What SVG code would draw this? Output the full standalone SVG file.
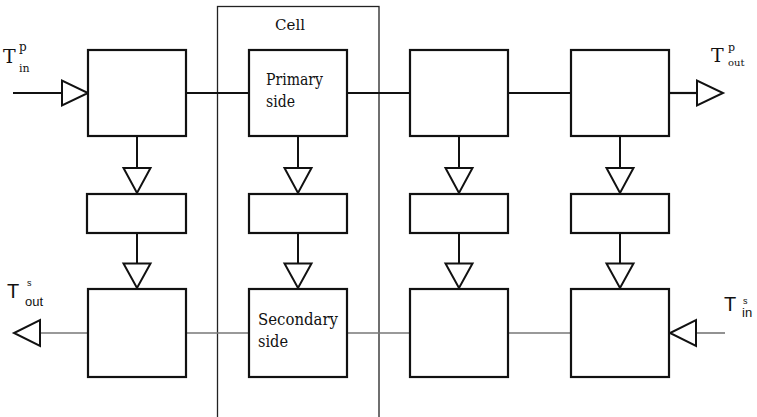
<svg xmlns="http://www.w3.org/2000/svg" width="757" height="417" viewBox="0 0 757 417">
<style>
.box{fill:#fff;stroke:#111;stroke-width:2.2}
.tri{fill:#fff;stroke:#111;stroke-width:2}
.ln{stroke:#111;stroke-width:2.2;fill:none}
.vl{stroke:#111;stroke-width:2;fill:none}
.gl{stroke:#777;stroke-width:1.6;fill:none}
.cell{fill:none;stroke:#222;stroke-width:1.3}
.serif{font-family:'DejaVu Serif','Liberation Serif',serif;fill:#111}
.sans{font-family:'Liberation Sans',Arial,sans-serif;fill:#111}
</style>
<rect width="757" height="417" fill="#fff"/>
<g id="cell">
<rect class="cell" x="217.5" y="6.5" width="161.5" height="420"/>
<text class="serif" x="290" y="30" font-size="15" text-anchor="middle" textLength="30" lengthAdjust="spacingAndGlyphs">Cell</text>
</g>
<g id="connectors">
<line class="ln" x1="13" y1="93" x2="62" y2="93"/>
<line class="ln" x1="186" y1="93" x2="249" y2="93"/>
<line class="ln" x1="347" y1="93" x2="410" y2="93"/>
<line class="ln" x1="508" y1="93" x2="571" y2="93"/>
<line class="ln" x1="669" y1="93" x2="697" y2="93"/>
<polygon class="tri" points="62,80.5 62,105.5 88,93"/>
<polygon class="tri" points="697,80.5 697,105.5 723,93"/>
<line class="gl" x1="40" y1="333" x2="88" y2="333"/>
<line class="gl" x1="186" y1="333" x2="249" y2="333"/>
<line class="gl" x1="347" y1="333" x2="410" y2="333"/>
<line class="gl" x1="508" y1="333" x2="571" y2="333"/>
<line class="gl" x1="697" y1="333" x2="725" y2="333"/>
<polygon class="tri" points="40,320 40,346 14,333"/>
<polygon class="tri" points="696,320 696,346 670,333"/>
<line class="vl" x1="137" y1="136" x2="137" y2="168"/>
<line class="vl" x1="137" y1="233" x2="137" y2="263"/>
<line class="vl" x1="298" y1="136" x2="298" y2="168"/>
<line class="vl" x1="298" y1="233" x2="298" y2="263"/>
<line class="vl" x1="459" y1="136" x2="459" y2="168" stroke-width="1.5"/>
<line class="vl" x1="459" y1="233" x2="459" y2="263" stroke-width="1.5"/>
<line class="vl" x1="620" y1="136" x2="620" y2="168"/>
<line class="vl" x1="620" y1="233" x2="620" y2="263"/>
<polygon class="tri" points="123.5,168 150.5,168 137,193"/>
<polygon class="tri" points="123.5,263.5 150.5,263.5 137,288"/>
<polygon class="tri" points="284.5,168 311.5,168 298,193"/>
<polygon class="tri" points="284.5,263.5 311.5,263.5 298,288"/>
<polygon class="tri" points="445.5,168 472.5,168 459,193"/>
<polygon class="tri" points="445.5,263.5 472.5,263.5 459,288"/>
<polygon class="tri" points="606.5,168 633.5,168 620,193"/>
<polygon class="tri" points="606.5,263.5 633.5,263.5 620,288"/>
</g>
<g id="top1"><rect class="box" x="88" y="50" width="98" height="86"/></g>
<g id="primary"><rect class="box" x="249" y="50" width="98" height="86"/>
<text class="serif" x="266" y="85" font-size="16" textLength="57" lengthAdjust="spacingAndGlyphs">Primary</text>
<text class="serif" x="266" y="107" font-size="16" textLength="29" lengthAdjust="spacingAndGlyphs">side</text></g>
<g id="top3"><rect class="box" x="410" y="50" width="98" height="86"/></g>
<g id="top4"><rect class="box" x="571" y="50" width="98" height="86"/></g>
<g id="mid1"><rect class="box" x="87" y="194" width="99" height="39"/></g>
<g id="mid2"><rect class="box" x="249" y="194" width="98" height="39"/></g>
<g id="mid3"><rect class="box" x="410" y="194" width="98" height="39"/></g>
<g id="mid4"><rect class="box" x="571" y="194" width="98" height="39"/></g>
<g id="bot1"><rect class="box" x="88" y="289" width="98" height="88"/></g>
<g id="secondary"><rect class="box" x="249" y="289" width="98" height="88"/>
<text class="serif" x="258" y="325" font-size="16" textLength="80" lengthAdjust="spacingAndGlyphs">Secondary</text>
<text class="serif" x="258" y="347" font-size="16" textLength="30" lengthAdjust="spacingAndGlyphs">side</text></g>
<g id="bot3"><rect class="box" x="410" y="289" width="98" height="88"/></g>
<g id="bot4"><rect class="box" x="571" y="289" width="98" height="88"/></g>
<g id="label-tinp">
<text class="serif" x="3" y="63" font-size="19">T</text>
<text class="serif" x="19" y="51" font-size="12">p</text>
<text class="serif" x="19" y="72" font-size="11">in</text>
</g>
<g id="label-toutp">
<text class="serif" x="711" y="62" font-size="19">T</text>
<text class="serif" x="728" y="51" font-size="11">p</text>
<text class="serif" x="728" y="66" font-size="10">out</text>
</g>
<g id="label-touts">
<text class="sans" x="7" y="298" font-size="20">T</text>
<text class="sans" x="27" y="286" font-size="9">s</text>
<text class="sans" x="25" y="306" font-size="13">out</text>
</g>
<g id="label-tins">
<text class="sans" x="724" y="311" font-size="20">T</text>
<text class="sans" x="743" y="304" font-size="9">s</text>
<text class="sans" x="742" y="317" font-size="13">in</text>
</g>
</svg>
